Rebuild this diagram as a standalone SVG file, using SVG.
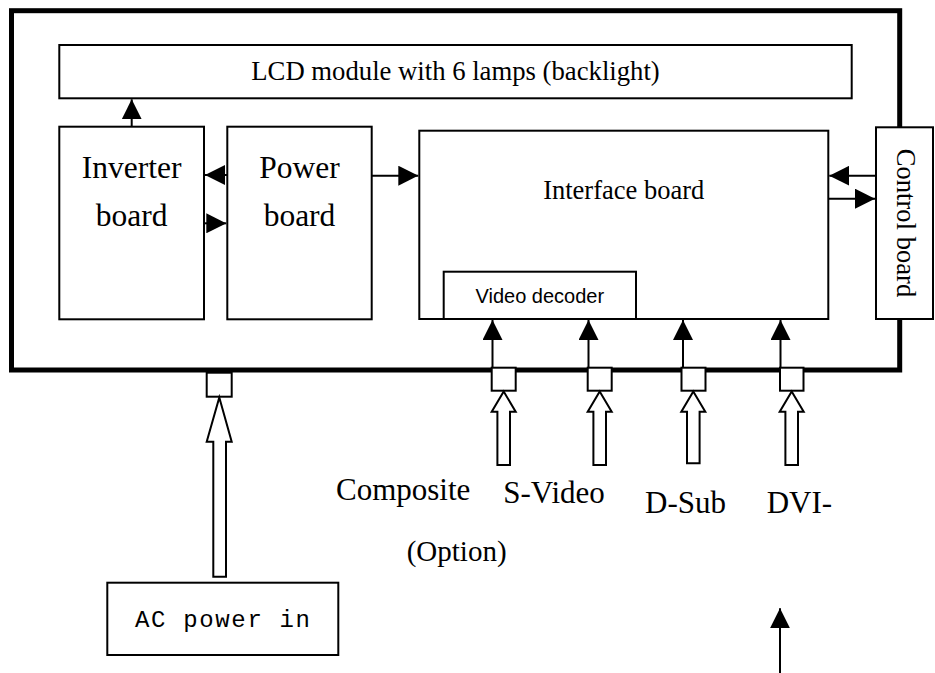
<svg xmlns="http://www.w3.org/2000/svg" width="935" height="673" viewBox="0 0 935 673">
<defs>
<marker id="ah" markerUnits="userSpaceOnUse" markerWidth="20" markerHeight="20" refX="20" refY="10" orient="auto" viewBox="0 0 20 20"><path d="M0,0 L20,10 L0,20 z" fill="#000"/></marker>
</defs>
<style>
.box{fill:#fff;stroke:#000;stroke-width:2}
.frame{fill:none;stroke:#000;stroke-width:5}
.con{stroke:#000;stroke-width:2;fill:none;marker-end:url(#ah)}
.hollow{fill:#fff;stroke:#000;stroke-width:2;stroke-linejoin:miter}
.serif{font-family:"Liberation Serif","Times New Roman",serif;fill:#000}
.sans{font-family:"Liberation Sans",Arial,sans-serif;fill:#000}
.mono{font-family:"Liberation Mono","Courier New",monospace;fill:#000}
</style>
<rect class="frame" x="11.5" y="10.7" width="888.2" height="359.3"/>
<g id="lcd">
<rect class="box" x="59.3" y="45" width="792.4" height="53.3"/>
<text class="serif" x="455.5" y="80" font-size="26.7" text-anchor="middle">LCD module with 6 lamps (backlight)</text>
</g>
<g id="inverter">
<rect class="box" x="59.3" y="126.7" width="144.7" height="192.6"/>
<text class="serif" x="131.7" y="178.3" font-size="31.5" text-anchor="middle">Inverter</text>
<text class="serif" x="131.7" y="226" font-size="31.5" text-anchor="middle">board</text>
</g>
<g id="power">
<rect class="box" x="227.3" y="126.7" width="144.4" height="192.6"/>
<text class="serif" x="299.5" y="178.3" font-size="31.5" text-anchor="middle">Power</text>
<text class="serif" x="299.5" y="226" font-size="31.5" text-anchor="middle">board</text>
</g>
<g id="interface">
<rect class="box" x="419.3" y="130.7" width="409" height="188.3"/>
<text class="serif" x="623.7" y="199.3" font-size="26.5" text-anchor="middle">Interface board</text>
</g>
<g id="decoder">
<rect class="box" x="443.7" y="271.7" width="192.3" height="47.3"/>
<text class="sans" x="539.8" y="302.7" font-size="20" text-anchor="middle">Video decoder</text>
</g>
<g id="control">
<rect class="box" x="876" y="127.3" width="57" height="191.7"/>
<text class="serif" transform="translate(896.5,223) rotate(90)" font-size="26.6" text-anchor="middle">Control board</text>
</g>
<g id="ports">
<rect class="box" x="206.7" y="372.7" width="25" height="24"/>
<rect class="box" x="491.7" y="367.7" width="24" height="23"/>
<rect class="box" x="587.7" y="367.7" width="24" height="23"/>
<rect class="box" x="681.5" y="367.7" width="24" height="23"/>
<rect class="box" x="780" y="367.7" width="23.5" height="23"/>
</g>
<g id="connectors">
<path class="con" d="M131.7,126.7 V99.3"/>
<path class="con" d="M227.3,175 H205"/>
<path class="con" d="M204,223.3 H226.3"/>
<path class="con" d="M371.7,175.7 H418.3"/>
<path class="con" d="M876,175.7 H829.3"/>
<path class="con" d="M828.3,198.7 H875"/>
<path class="con" d="M492.5,367.7 V320"/>
<path class="con" d="M588.5,367.7 V320"/>
<path class="con" d="M683,367.7 V320"/>
<path class="con" d="M780.5,367.7 V320"/>
<path class="con" d="M780,673 V608.3"/>
<polygon class="hollow" points="219.3,397.5 231.7,441.7 226,441.7 226,576.7 213.3,576.7 213.3,441.7 206.7,441.7"/>
<polygon class="hollow" points="503.7,391.5 515.7,411.7 510,411.7 510,465 497.4,465 497.4,411.7 491.7,411.7"/>
<polygon class="hollow" points="599.7,391.5 611.7,411.7 606,411.7 606,465 593.4,465 593.4,411.7 587.7,411.7"/>
<polygon class="hollow" points="693.3,391.5 705.3,411.7 699.6,411.7 699.6,463.3 687,463.3 687,411.7 681.3,411.7"/>
<polygon class="hollow" points="791.7,391.5 803.7,411.7 798,411.7 798,465 785.4,465 785.4,411.7 779.7,411.7"/>
</g>
<g id="labels">
<text class="serif" x="336" y="500" font-size="31">Composite</text>
<text class="serif" x="406.7" y="561" font-size="29">(Option)</text>
<text class="serif" x="503.3" y="503" font-size="31">S-Video</text>
<text class="serif" x="645" y="513" font-size="31">D-Sub</text>
<text class="serif" x="766.7" y="513" font-size="31">DVI-</text>
</g>
<g id="acpower">
<rect class="box" x="107.3" y="582.7" width="231" height="72.3"/>
<text class="mono" x="135" y="627" font-size="24" textLength="175" lengthAdjust="spacing">AC power in</text>
</g>
</svg>
